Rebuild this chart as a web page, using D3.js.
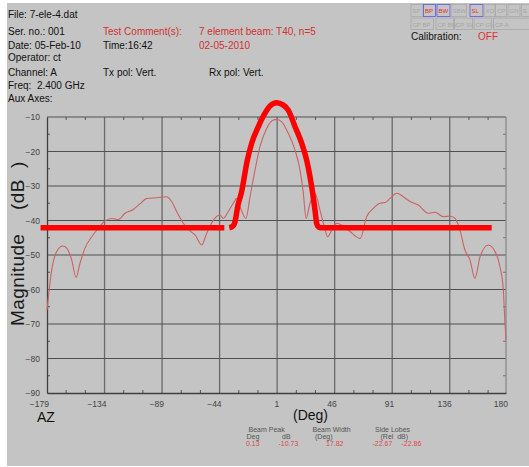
<!DOCTYPE html>
<html>
<head>
<meta charset="utf-8">
<script src="https://cdn.jsdelivr.net/npm/d3@7"></script>
<style>
  body { margin: 0; background: #fff; }
  text { font-family: "Liberation Sans", Arial, sans-serif; white-space: pre; }
</style>
</head>
<body>
<div id="chart-area"></div>
<script>
// measured pattern (thin line)
const azimuth = [-179, -178, -175.3, -171.4, -166.7, -163.6, -159.7, -156.3, -153.2, -149.3, -144, -138.9, -133.6, -128.4,
  -123.2, -118, -111.5, -106.3, -101, -93.2, -85.4, -81.5, -77.6, -72.4, -67.2, -63.2, -58, -54.1, -48.9, -43.7, -41.1,
  -37.2, -33.3, -30.6, -28.1, -23.4, -20.2, -16.3, -12.4, -7.2, -2, 0.7, 4.6, 9.7, 15, 18.9, 21.5, 23.6, 26.7, 30.6,
  34.5, 37.9, 40.5, 43.7, 47.6, 51.5, 58, 66, 71, 76.2, 81.4, 85.4, 89.3, 94.5, 99.7, 104.9, 111.4, 119.2, 124.5, 131,
  136.2, 140.1, 144, 147.9, 151.8, 155.7, 159.7, 166.1, 171.4, 175.3, 177.9, 179.2, 180];
const magnitude = [-66, -62.5, -54.3, -49, -47.4, -48, -51.4, -56.5, -52.4, -48, -44.7, -42.3, -40.1, -39.4,
  -39.7, -37.9, -36.8, -35.2, -33.6, -33.4, -33.1, -34.5, -37.4, -40.8, -43, -44.2, -47.1, -43.7, -39.9, -38.4, -39.4,
  -37.4, -35, -33.6, -36, -39.4, -33.1, -25.4, -18.6, -13.3, -10.9, -10.7, -11.4, -14.7, -19.6, -25.4, -32.1, -39.4, -35, -32.1,
  -37, -41.8, -44.7, -42.8, -40.8, -41.3, -43.2, -45.2, -38.9, -36.5, -35, -34.8, -33.6, -32.1, -33.1, -34.5, -35.5, -37.9, -37.6, -38.9,
  -38.7, -39.4, -42.8, -48.6, -51.4, -56.8, -50.5, -47.1, -49, -53.4, -60.1, -69.8, -74.6];

// hand drawn overlay (thick red)
const markLeftAz = [-184, -40.3];
const markLeftDb = [-42.1, -42.1];
const markBeamAz = [-36.4, -33.5, -32, -29.6, -27, -22.3, -18.9, -13.7, -8.5, -4.6, 0.6, 5.6, 9.7, 15, 20.2, 24.1,
  26.7, 28.8, 30.6, 31.9, 32.9, 34.5, 168.8];
const markBeamDb = [-42.1, -41.6, -40.4, -35.5, -32, -22.5, -17.6, -12.8, -8.9, -6.8, -5.9, -6.5, -8, -12.8, -17.6, -22.5,
  -27.3, -32.1, -37, -40.8, -41.7, -42.1, -42.1];

const xTicks = [-179, -134, -89, -44, 1, 46, 91, 136, 180];
const yTicks = [-10, -20, -30, -40, -50, -60, -70, -80, -90];

const btnRow1 = ["SP", "BP", "BW", "SBW", "SL", "XO", "CP", "GN", "E"];
const btnRow1On = [0, 1, 1, 0, 1, 0, 0, 0, 0];
const btnRow2 = ["CP BP", "CP BW", "CP SL", "CP GN", "CP A"];

const svg = d3.select("#chart-area").append('svg')
    .attr("width", 529)
    .attr("height", 467);

svg.append('rect').attr('x', 7).attr('y', 3).attr('width', 522).attr('height', 463).attr('fill', '#c4c4c4');

const x = d3.scaleLinear().domain([-179, 180]).range([47, 506]);
const y = d3.scaleLinear().domain([-90, -10]).range([393, 117]);

// header text
const hdr = svg.append('g').attr('font-size', 10).attr('fill', '#111');
const put = (t, px, py, col) => hdr.append('text').attr('x', px).attr('y', py).attr('fill', col || '#111').text(t);
put("File: 7-ele-4.dat", 8, 17.5);
put("Ser. no.: 001", 8, 35);
put("Date: 05-Feb-10", 8, 49);
put("Operator: ct", 8, 60.5);
put("Channel: A", 8, 75.5);
put("Freq:  2.400 GHz", 8, 89);
put("Aux Axes:", 8, 101.5);
put("Test Comment(s):", 103, 35, '#d43030');
put("Time:16:42", 103, 49);
put("Tx pol: Vert.", 103, 75.5);
put("7 element beam: T40, n=5", 199, 35, '#d43030');
put("02-05-2010", 199, 49, '#d43030');
put("Rx pol: Vert.", 209, 75.5);
put("Calibration:", 411, 39.5);
put("OFF", 478, 39.5, '#e03030');

// button strip
const b1x = [411, 423.5, 437, 451, 470, 484, 495.5, 508, 521.5];
const b1w = [12, 12, 13, 15.5, 13, 11, 11, 12, 10];
const b2x = [411, 436, 454.5, 474, 493.5];
const b2w = [22.5, 17.5, 18, 17.5, 40];
const btn = svg.append('g');
btn.selectAll('rect.r1').data(btnRow1).enter().append('rect')
    .attr('x', (d, i) => b1x[i]).attr('y', 4.5).attr('width', (d, i) => b1w[i]).attr('height', 12)
    .attr('fill', 'none').attr('stroke', (d, i) => btnRow1On[i] ? '#5a5ae0' : '#a8a8a8').attr('stroke-width', 0.8);
btn.selectAll('text.r1').data(btnRow1).enter().append('text')
    .attr('x', (d, i) => b1x[i] + 1.5).attr('y', 13).attr('font-size', 6)
    .attr('fill', (d, i) => btnRow1On[i] ? '#e03030' : '#a4a4a4').text(d => d);
btn.selectAll('rect.r2').data(btnRow2).enter().append('rect')
    .attr('x', (d, i) => b2x[i]).attr('y', 18).attr('width', (d, i) => b2w[i]).attr('height', 11.5)
    .attr('fill', 'none').attr('stroke', '#a8a8a8').attr('stroke-width', 0.8);
btn.selectAll('text.r2').data(btnRow2).enter().append('text')
    .attr('x', (d, i) => b2x[i] + 1.5).attr('y', 26.5).attr('font-size', 6)
    .attr('fill', '#a4a4a4').text(d => d);

// grid
const grid = svg.append('g');
grid.selectAll('line.v').data(xTicks.slice(1, -1)).enter().append('line')
    .attr('x1', d => x(d)).attr('x2', d => x(d)).attr('y1', y(-10)).attr('y2', y(-90))
    .attr('stroke', '#6a6a6a').attr('stroke-width', 1.3);
grid.selectAll('line.h').data(yTicks.slice(1, -1)).enter().append('line')
    .attr('x1', x(-179)).attr('x2', x(180)).attr('y1', d => y(d)).attr('y2', d => y(d))
    .attr('stroke', '#505050').attr('stroke-width', 1.2);

// frame
svg.append('line').attr('x1', x(-179)).attr('x2', x(180)).attr('y1', y(-10)).attr('y2', y(-10)).attr('stroke', '#505050');
svg.append('line').attr('x1', x(180)).attr('x2', x(180)).attr('y1', y(-10)).attr('y2', y(-90)).attr('stroke', '#8a8a8a').attr('stroke-width', 1.3);

// minor ticks
const xMinor = d3.range(-164, 180, 15).filter(v => !xTicks.includes(v));
const yMinor = d3.range(-85, -10, 10);
svg.append('g').selectAll('line').data(xMinor).enter().append('line')
    .attr('x1', d => x(d)).attr('x2', d => x(d)).attr('y1', y(-90)).attr('y2', y(-90) - 3).attr('stroke', '#555');
svg.append('g').selectAll('line').data(xMinor).enter().append('line')
    .attr('x1', d => x(d)).attr('x2', d => x(d)).attr('y1', y(-10)).attr('y2', y(-10) + 3).attr('stroke', '#555');
svg.append('g').selectAll('line').data(yMinor).enter().append('line')
    .attr('x1', x(-179)).attr('x2', x(-179) + 3).attr('y1', d => y(d)).attr('y2', d => y(d)).attr('stroke', '#555');
svg.append('g').selectAll('line').data(yMinor).enter().append('line')
    .attr('x1', x(180)).attr('x2', x(180) - 3).attr('y1', d => y(d)).attr('y2', d => y(d)).attr('stroke', '#777');

// axes
const xAxis = svg.append('g').attr('transform', `translate(0,${y(-90)})`)
    .call(d3.axisBottom(x).tickValues(xTicks).tickSize(0).tickPadding(10).tickFormat(d3.format('d')));
xAxis.select('.domain').attr('stroke', '#404040').attr('stroke-width', 1.3);
xAxis.selectAll('text').attr('font-size', 8.5).attr('fill', '#444')
    .attr('font-family', '"Liberation Sans", Arial, sans-serif')
    .attr('text-anchor', 'end').attr('dx', 1.5).attr('dy', '0.5em');

const yAxis = svg.append('g').attr('transform', `translate(${x(-179)},0)`)
    .call(d3.axisLeft(y).tickValues(yTicks).tickSize(0).tickPadding(7).tickFormat(d3.format('d')));
yAxis.select('.domain').attr('stroke', '#404040').attr('stroke-width', 1.3);
yAxis.selectAll('text').attr('font-size', 8.5).attr('fill', '#444')
    .attr('font-family', '"Liberation Sans", Arial, sans-serif');

// axis titles
svg.append('text').attr('transform', 'translate(24,326) rotate(-90)').attr('font-size', 19).attr('letter-spacing', 0.4)
    .attr('fill', '#1a1a1a').text('Magnitude');
svg.append('text').attr('transform', 'translate(24,210) rotate(-90)').attr('font-size', 19).attr('letter-spacing', 0.4)
    .attr('fill', '#1a1a1a').text('(dB  )');
svg.append('text').attr('x', 37).attr('y', 421.5).attr('font-size', 14).attr('fill', '#111').text('AZ');
svg.append('text').attr('x', 293).attr('y', 420).attr('font-size', 14).attr('fill', '#111').text('(Deg)');

// stats
const st = svg.append('g').attr('font-size', 7);
const sput = (t, px, py, col) => st.append('text').attr('x', px).attr('y', py).attr('fill', col).text(t);
sput("Beam Peak", 248.5, 431.5, '#555');
sput("Deg", 246.5, 439, '#555');
sput("dB", 282, 439, '#555');
sput("0.13", 246, 445.5, '#e04848');
sput("-10.73", 278.5, 445.5, '#e04848');
sput("Beam Width", 312.5, 431.5, '#555');
sput("(Deg)", 315, 439, '#555');
sput("17.82", 326, 445.5, '#e04848');
sput("Side Lobes", 375, 431.5, '#555');
sput("(Rel  dB)", 380.5, 439, '#555');
sput("-22.67", 372.5, 445.5, '#e04848');
sput("-22.86", 401.5, 445.5, '#e04848');

// pattern line
const pts = azimuth.map((a, i) => [a, magnitude[i]]);
const line = d3.line().x(d => x(d[0])).y(d => y(d[1])).curve(d3.curveMonotoneX);
svg.append('path').attr('d', line(pts)).attr('fill', 'none').attr('stroke', '#cc6262').attr('stroke-width', 1.1);

// thick overlay
const markLeft = markLeftAz.map((a, i) => [a, markLeftDb[i]]);
const markBeam = markBeamAz.map((a, i) => [a, markBeamDb[i]]);
svg.append('path').attr('d', line(markLeft)).attr('fill', 'none').attr('stroke', '#ff0000').attr('stroke-width', 5.5);
svg.append('path').attr('d', line(markBeam)).attr('fill', 'none').attr('stroke', '#ff0000').attr('stroke-width', 5.5)
    .attr('stroke-linejoin', 'round');
</script>
</body>
</html>
